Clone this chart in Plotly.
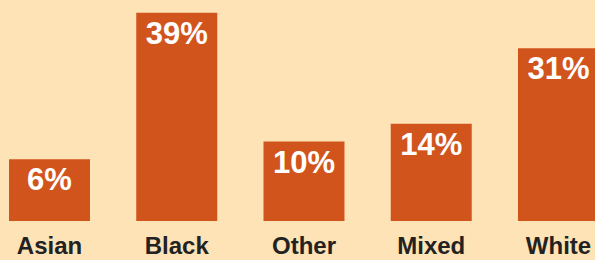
import plotly.graph_objects as go

categories = ["Asian", "Black", "Other", "Mixed", "White"]
values = [6, 39, 10, 14, 31]
value_labels = ["6%", "39%", "10%", "14%", "31%"]

BG = "#FDE3B5"
BAR = "#D2541D"
BASE = -7.9

fig = go.Figure(
    go.Bar(
        x=categories,
        y=[v - BASE for v in values],
        base=BASE,
        text=value_labels,
        textposition="inside",
        insidetextanchor="end",
        textangle=0,
        constraintext="none",
        textfont=dict(family="Liberation Sans, Arial, sans-serif", size=31, color="white", weight="bold"),
        marker=dict(color=BAR, line=dict(width=0)),
        width=0.6366,
        hoverinfo="skip",
    )
)

fig.update_layout(
    width=595,
    height=260,
    margin=dict(l=0, r=0, t=0, b=39, autoexpand=False),
    paper_bgcolor=BG,
    plot_bgcolor=BG,
    showlegend=False,
    xaxis=dict(
        range=[-0.389, 4.287],
        showgrid=False,
        zeroline=False,
        showline=False,
        ticks="",
        automargin=False,
        ticklabelstandoff=8,
        tickfont=dict(family="Liberation Sans, Arial, sans-serif", size=24, color="#222222", weight="bold"),
    ),
    yaxis=dict(
        range=[BASE, 41.9],
        visible=False,
        automargin=False,
    ),
)

fig.write_html(
    "out.html",
    config={"displayModeBar": False, "staticPlot": True},
    post_script="document.body.style.margin='0px';document.body.style.padding='0px';document.body.style.background='" + BG + "';",
)
